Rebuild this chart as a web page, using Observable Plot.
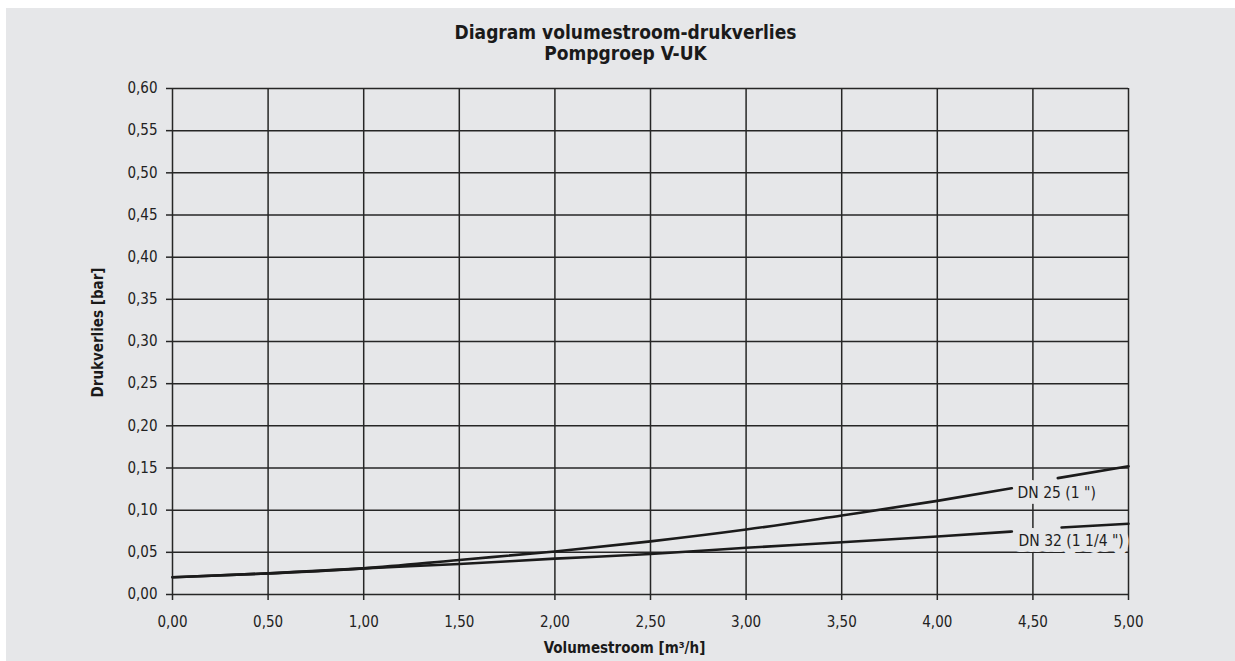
<!DOCTYPE html>
<html><head><meta charset="utf-8">
<script src="https://cdn.jsdelivr.net/npm/d3@7"></script>
<script src="https://cdn.jsdelivr.net/npm/@observablehq/plot@0.6"></script>
<style>
html,body{margin:0;padding:0;background:#fff;}
#panel{position:absolute;left:6px;top:8px;width:1229px;height:653px;background:#e6e7e9;overflow:hidden;}
#panel svg{font-family:"Liberation Sans Narrow","DejaVu Sans Condensed",sans-serif;background:transparent;}
</style></head><body><div id="panel"></div>
<script>
// ---- data ----
const titleLines = ["Diagram volumestroom-drukverlies", "Pompgroep V-UK"];
const xLabel = "Volumestroom [m³/h]";
const yLabel = "Drukverlies [bar]";
const xTicks = [0, 0.5, 1, 1.5, 2, 2.5, 3, 3.5, 4, 4.5, 5];
const yTicks = [0, 0.05, 0.1, 0.15, 0.2, 0.25, 0.3, 0.35, 0.4, 0.45, 0.5, 0.55, 0.6];
// curves are interrupted (NaN) where the label sits
const flowDN25 = [0, 0.5, 1, 1.5, 2, 2.5, 3, 3.5, 4, 4.39, 4.5, 4.63, 5];
const lossDN25 = [0.0205, 0.025, 0.031, 0.041, 0.051, 0.063, 0.077, 0.0937, 0.111, 0.126, NaN, 0.138, 0.152];
const flowDN32 = [0, 0.5, 1, 1.5, 2, 2.5, 3, 3.5, 4, 4.39, 4.5, 4.65, 5];
const lossDN32 = [0.0205, 0.025, 0.031, 0.0362, 0.0425, 0.048, 0.0554, 0.062, 0.0688, 0.0747, NaN, 0.0794, 0.0839];
const labelNames = ["DN 25 (1 \")", "DN 32 (1 1/4 \")"];
const labelFlow = [4.42, 4.425];
const labelLoss = [0.1205, 0.063];

const fmt = d => d3.format(".2f")(d).replace(".", ",");
const bg = "#e6e7e9";
const ink = "#262626";

const chart = Plot.plot({
  width: 1229,
  height: 653,
  marginLeft: 166,
  marginRight: 107,
  marginTop: 80,
  marginBottom: 67,
  style: {background: "transparent", fontFamily: "'Liberation Sans Narrow','DejaVu Sans Condensed',sans-serif"},
  x: {domain: [0, 5]},
  y: {domain: [0, 0.6]},
  marks: [
    Plot.gridX(xTicks, {stroke: ink, strokeOpacity: 1, strokeWidth: 1.5}),
    Plot.gridY(yTicks, {stroke: ink, strokeOpacity: 1, strokeWidth: 1.5}),
    Plot.axisX(xTicks, {tickSize: 6, tickPadding: 16, tickFormat: fmt, fontSize: 15, fill: "#222", stroke: ink, strokeWidth: 1.5, label: null}),
    Plot.axisY(yTicks, {tickSize: 6, tickPadding: 9, tickFormat: fmt, fontSize: 15, fill: "#222", stroke: ink, strokeWidth: 1.5, label: null}),
    Plot.text(labelNames, {
      x: labelFlow, y: labelLoss, text: d => d,
      textAnchor: "start", lineAnchor: "middle", fontSize: 15.5, fill: "#1e1e1e",
      stroke: bg, strokeWidth: 12, strokeLinejoin: "round"
    }),
    Plot.line(lossDN25, {x: flowDN25, y: lossDN25, curve: "monotone-x", stroke: "#1b1b1b", strokeWidth: 2.6}),
    Plot.line(lossDN32, {x: flowDN32, y: lossDN32, curve: "monotone-x", stroke: "#1b1b1b", strokeWidth: 2.6}),
    Plot.text([titleLines.join("\n")], {
      frameAnchor: "top", dx: -25, dy: -46, lineAnchor: "middle", lineHeight: 1.12,
      fontSize: 19, fontWeight: "bold", fill: "#1a1a1a", text: d => d
    }),
    Plot.text([xLabel], {
      frameAnchor: "bottom", dx: -26, dy: 54, lineAnchor: "middle",
      fontSize: 15, fontWeight: "bold", fill: "#1a1a1a", text: d => d
    }),
    Plot.text([yLabel], {
      frameAnchor: "left", rotate: -90, dx: -74, dy: -9, textAnchor: "middle", lineAnchor: "middle",
      fontSize: 15, fontWeight: "bold", fill: "#1a1a1a", text: d => d
    })
  ]
});
document.getElementById("panel").appendChild(chart);
</script></body></html>
